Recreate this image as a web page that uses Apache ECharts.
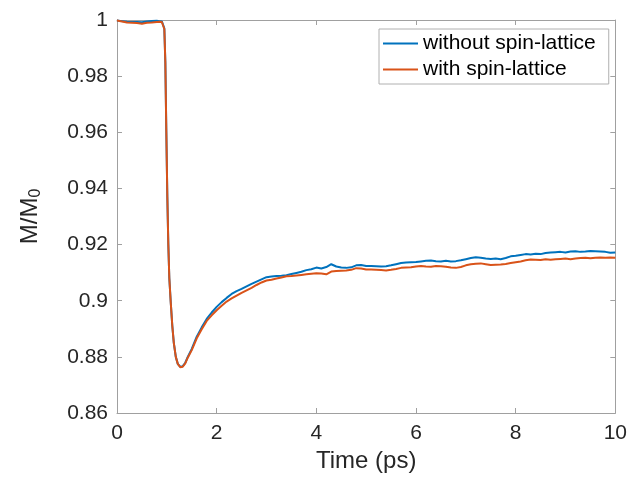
<!DOCTYPE html>
<html>
<head>
<meta charset="utf-8">
<script src="https://cdn.jsdelivr.net/npm/echarts@6/dist/echarts.min.js"></script>
<style>
html,body{margin:0;padding:0;background:#fff;}
#chart{width:630px;height:479px;}
</style>
</head>
<body>
<div id="chart"></div>
<script>
var seriesNames = ['without spin-lattice', 'with spin-lattice'];
var xTicks = [0, 2, 4, 6, 8, 10];
var yTicks = [0.86, 0.88, 0.9, 0.92, 0.94, 0.96, 0.98, 1];

var times = [0,0.1,0.2,0.3,0.4,0.5,0.6,0.7,0.8,0.85,0.9,
  0.93,0.95,0.97,0.99,1.01,1.03,1.05,1.08,1.11,1.14,1.18,1.22,1.27,1.32,1.37,1.42,
  1.5,1.6,1.7,1.8,1.9,
  2.0,2.1,2.2,2.3,2.4,2.5,2.6,2.7,2.8,2.9,
  3.0,3.1,3.2,3.3,3.4,3.5,3.6,3.7,3.8,3.9,
  4.0,4.1,4.2,4.3,4.4,4.5,4.6,4.7,4.8,4.9,
  5.0,5.1,5.2,5.3,5.4,5.5,5.6,5.7,5.8,5.9,
  6.0,6.1,6.2,6.3,6.4,6.5,6.6,6.7,6.8,6.9,
  7.0,7.1,7.2,7.3,7.4,7.5,7.6,7.7,7.8,7.9,
  8.0,8.1,8.2,8.3,8.4,8.5,8.6,8.7,8.8,8.9,
  9.0,9.1,9.2,9.3,9.4,9.5,9.6,9.7,9.8,9.9,10.0];

var withoutSL = [0.9998,0.9996,0.9994,0.9993,0.9993,0.9992,0.9995,0.9996,0.9997,0.9996,0.9995,
  0.9990,0.9970,0.9850,0.9600,0.9370,0.9200,0.9080,0.8990,0.8910,0.8850,0.8800,0.8775,0.8764,0.8767,0.8779,0.8800,
  0.8828,0.8872,0.8905,0.8935,0.8958,
  0.8978,0.8995,0.9010,0.9024,0.9034,0.9042,0.9051,0.9060,0.9068,0.9076,
  0.9084,0.9086,0.9088,0.9089,0.9091,0.9095,0.9099,0.9103,0.9109,0.9112,
  0.9118,0.9115,0.9120,0.9130,0.9122,0.9118,0.9117,0.9119,0.9126,0.9127,
  0.9124,0.9124,0.9123,0.9122,0.9123,0.9126,0.9130,0.9134,0.9136,0.9137,
  0.9138,0.9140,0.9142,0.9143,0.9141,0.9140,0.9142,0.9140,0.9141,0.9144,
  0.9148,0.9152,0.9155,0.9153,0.9150,0.9149,0.9150,0.9148,0.9152,0.9158,
  0.9160,0.9163,0.9166,0.9165,0.9167,0.9166,0.9170,0.9172,0.9173,0.9174,
  0.9172,0.9175,0.9176,0.9174,0.9175,0.9177,0.9176,0.9175,0.9174,0.9171,0.9172];

var withSL = [0.9998,0.9995,0.9991,0.9990,0.9989,0.9987,0.9990,0.9991,0.9993,0.9994,0.9993,
  0.9989,0.9968,0.9850,0.9600,0.9370,0.9200,0.9080,0.8990,0.8910,0.8850,0.8800,0.8775,0.8763,0.8765,0.8777,0.8797,
  0.8824,0.8866,0.8898,0.8928,0.8948,
  0.8966,0.8982,0.8997,0.9008,0.9018,0.9028,0.9037,0.9046,0.9056,0.9065,
  0.9072,0.9075,0.9079,0.9083,0.9087,0.9088,0.9090,0.9092,0.9094,0.9096,
  0.9098,0.9097,0.9094,0.9104,0.9106,0.9107,0.9108,0.9110,0.9116,0.9115,
  0.9111,0.9111,0.9110,0.9109,0.9108,0.9110,0.9113,0.9117,0.9118,0.9119,
  0.9122,0.9124,0.9122,0.9121,0.9124,0.9123,0.9121,0.9118,0.9117,0.9120,
  0.9126,0.9130,0.9132,0.9133,0.9130,0.9127,0.9128,0.9129,0.9131,0.9134,
  0.9137,0.9140,0.9144,0.9147,0.9146,0.9145,0.9148,0.9146,0.9148,0.9149,
  0.9150,0.9148,0.9150,0.9152,0.9153,0.9151,0.9153,0.9154,0.9153,0.9154,0.9153];

var FONT = "'Liberation Sans', Arial, Helvetica, sans-serif";
var AX = '#a0a0a0';
var TXT = '#262626';
var BLUE = '#0072BD', ORANGE = '#D95319';

function pairs(ys){ return times.map(function(t,i){ return [t, ys[i]]; }); }
function fmt(v){ return String(parseFloat(v.toFixed(2))); }

var xMin = xTicks[0], xMax = xTicks[xTicks.length-1], xInt = xTicks[1]-xTicks[0];
var yMin = yTicks[0], yMax = yTicks[yTicks.length-1], yInt = 0.02;

function xAx(pos, showLabel){
  return {
    type: 'value', position: pos, min: xMin, max: xMax, interval: xInt,
    axisLine: {show: true, onZero: false, lineStyle: {color: AX, width: 1}},
    axisTick: {show: true, inside: true, length: 5, lineStyle: {color: AX}},
    axisLabel: {show: showLabel, color: TXT, fontSize: 21, fontFamily: FONT, margin: 10},
    splitLine: {show: false},
    name: showLabel ? 'Time (ps)' : '', nameLocation: 'middle', nameGap: 35,
    nameTextStyle: {color: TXT, fontSize: 24, fontFamily: FONT}
  };
}
function yAx(pos, showLabel){
  return {
    type: 'value', position: pos, min: yMin, max: yMax, interval: yInt,
    axisLine: {show: true, onZero: false, lineStyle: {color: AX, width: 1}},
    axisTick: {show: true, inside: true, length: 5, lineStyle: {color: AX}},
    axisLabel: {show: showLabel, color: TXT, fontSize: 21, fontFamily: FONT, margin: 9, formatter: fmt},
    splitLine: {show: false},
    name: showLabel ? '{a|M/M}{b|0}' : '', nameLocation: 'middle', nameGap: 73, nameRotate: 90,
    nameTextStyle: {
      color: TXT, fontSize: 24, fontFamily: FONT,
      rich: {
        a: {color: TXT, fontSize: 24, fontFamily: FONT},
        b: {color: TXT, fontSize: 16, fontFamily: FONT, verticalAlign: 'bottom', padding: [12,0,0,0]}
      }
    }
  };
}

var lineIcon = 'path://M0,0 L35,0 L35,2 L0,2 Z';

var chart = echarts.init(document.getElementById('chart'), null, {renderer: 'canvas'});
chart.setOption({
  animation: false,
  backgroundColor: '#fff',
  grid: {left: 117, right: 11, top: 20, bottom: 66, containLabel: false},
  xAxis: [xAx('bottom', true), xAx('top', false)],
  yAxis: [yAx('left', true), yAx('right', false)],
  legend: {
    orient: 'vertical', left: 379, top: 29,
    data: [
      {name: seriesNames[0], icon: lineIcon, itemStyle: {color: BLUE, borderWidth: 0}},
      {name: seriesNames[1], icon: lineIcon, itemStyle: {color: ORANGE, borderWidth: 0}}
    ],
    symbolKeepAspect: true,
    backgroundColor: '#fff', borderColor: '#b0b0b0', borderWidth: 1,
    padding: [4, 13, 4, 4],
    itemWidth: 35, itemHeight: 22, itemGap: 5,
    itemStyle: {borderWidth: 0},
    lineStyle: {width: 0},
    textStyle: {color: '#000', fontSize: 21, fontFamily: FONT}
  },
  series: [
    {name: seriesNames[0], type: 'line', data: pairs(withoutSL), symbol: 'none', showSymbol: false,
     lineStyle: {color: BLUE, width: 2}, itemStyle: {color: BLUE}, xAxisIndex: 0, yAxisIndex: 0},
    {name: seriesNames[1], type: 'line', data: pairs(withSL), symbol: 'none', showSymbol: false,
     lineStyle: {color: ORANGE, width: 2}, itemStyle: {color: ORANGE}, xAxisIndex: 0, yAxisIndex: 0}
  ]
});
</script>
</body>
</html>
